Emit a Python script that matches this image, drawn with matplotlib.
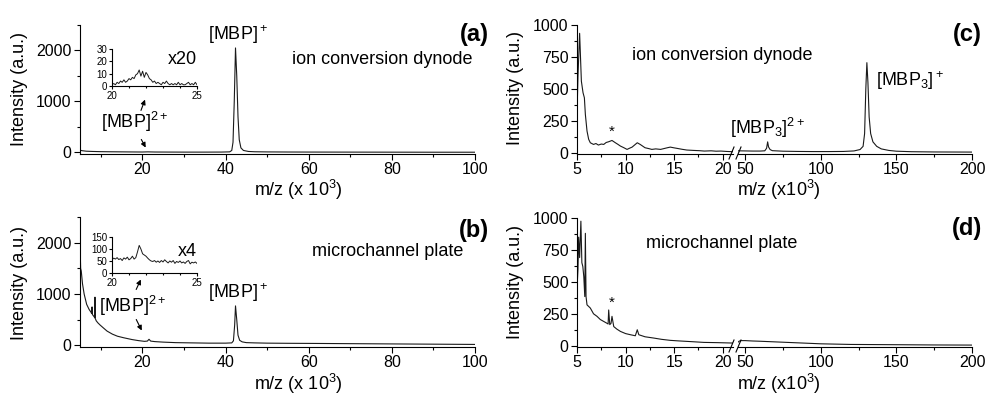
import matplotlib
matplotlib.use("Agg")
import matplotlib.pyplot as plt
from matplotlib.lines import Line2D
from matplotlib.patches import FancyArrowPatch
from matplotlib.ticker import MultipleLocator

plt.rcParams['font.family'] = ['Liberation Sans', 'DejaVu Sans']

# ---------------------------------------------------------------------------
# Spectra (m/z in kDa, intensity in a.u.)
# ---------------------------------------------------------------------------

# (a) ion conversion dynode, MBP monomer
a_mz = [5.0, 5.5, 6.5, 8.0, 10.0, 12.0, 15.0, 18.0, 20.0, 21.3, 23.0, 26.0, 30.0,
        35.0, 39.0, 41.0, 41.5, 41.8, 42.1, 42.4, 42.7, 43.0, 43.3, 43.7, 44.3,
        45.5, 47.0, 50.0, 55.0, 60.0, 70.0, 80.0, 90.0, 100.0]
a_int = [45, 35, 25, 20, 16, 14, 12, 10, 9, 12, 9, 8, 7,
         7, 8, 12, 40, 200, 1000, 2050, 1500, 700, 250, 90, 40,
         20, 14, 11, 9, 8, 7, 6, 5, 5]

# (a) inset, x20 zoom on the doubly charged ion
a_ins_mz = [20.0, 20.1, 20.2, 20.3, 20.4, 20.5, 20.6, 20.7, 20.8, 20.9,
            21.0, 21.1, 21.2, 21.3, 21.4, 21.5, 21.6, 21.7, 21.8, 21.9,
            22.0, 22.1, 22.2, 22.3, 22.4, 22.5, 22.6, 22.7, 22.8, 22.9,
            23.0, 23.1, 23.2, 23.3, 23.4, 23.5, 23.6, 23.7, 23.8, 23.9,
            24.0, 24.1, 24.2, 24.3, 24.4, 24.5, 24.6, 24.7, 24.8, 24.9, 25.0]
a_ins_int = [1, 2, 1, 3, 2, 4, 3, 5, 3, 4,
             6, 5, 7, 6, 9, 10, 13, 8, 12, 7,
             11, 9, 6, 5, 3, 4, 2, 3, 2, 1,
             3, 2, 4, 2, 1, 2, 1, 2, 1, 3,
             1, 2, 1, 1, 2, 3, 1, 2, 1, 3, 1]

# (b) microchannel plate, MBP monomer
b_mz = [5.0, 5.05, 5.15, 5.3, 5.6, 6.0, 6.6, 7.2, 7.7, 7.8, 7.9, 8.0, 8.3, 8.55,
        8.6, 8.65, 8.9, 9.3, 9.8, 10.5, 11.5, 12.8, 14.0, 15.5, 17.5, 19.0, 20.5,
        21.2, 21.6, 22.0, 23.0, 25.0, 28.0, 32.0, 36.0, 40.0, 41.5, 41.9, 42.2,
        42.4, 42.7, 43.0, 43.4, 44.0, 45.0, 47.0, 50.0, 55.0, 60.0, 70.0, 80.0,
        90.0, 100.0]
b_int = [1500, 1850, 1500, 1450, 1200, 1000, 800, 700, 640, 620, 750, 600, 570, 540,
         940, 530, 480, 440, 400, 350, 280, 220, 180, 150, 115, 95, 80,
         85, 120, 85, 75, 65, 55, 50, 45, 45, 50, 90, 400,
         770, 500, 200, 100, 70, 55, 50, 45, 42, 40, 35, 30,
         25, 20]

# (b) inset, x4 zoom on the doubly charged ion
b_ins_mz = [20.0, 20.1, 20.2, 20.3, 20.4, 20.5, 20.6, 20.7, 20.8, 20.9,
            21.0, 21.1, 21.2, 21.3, 21.4, 21.5, 21.6, 21.7, 21.8, 21.9,
            22.0, 22.1, 22.2, 22.3, 22.4, 22.5, 22.6, 22.7, 22.8, 22.9,
            23.0, 23.1, 23.2, 23.3, 23.4, 23.5, 23.6, 23.7, 23.8, 23.9,
            24.0, 24.1, 24.2, 24.3, 24.4, 24.5, 24.6, 24.7, 24.8, 24.9, 25.0]
b_ins_int = [55, 62, 58, 64, 56, 60, 52, 63, 58, 66,
             55, 60, 70, 58, 64, 88, 115, 100, 80, 75,
             70, 62, 55, 50, 48, 52, 45, 50, 44, 52,
             46, 55, 48, 42, 50, 45, 52, 40, 48, 44,
             50, 42, 46, 40, 48, 52, 38, 45, 42, 46, 40]

# (c) ion conversion dynode, MBP trimer (broken axis: 5-21 | 45-200)
c_lo_mz = [5.0, 5.1, 5.27, 5.45, 5.62, 5.76, 5.86, 6.03, 6.2, 6.37, 6.7, 6.95,
           7.2, 7.5, 7.75, 8.0, 8.26, 8.6, 8.95, 9.2, 9.47, 9.8, 10.15, 10.4,
           10.67, 11.2, 11.5, 12.0, 12.4, 12.7, 13.1, 13.6, 14.3, 14.6, 15.0,
           15.3, 15.8, 16.3, 17.0, 17.6, 18.1, 18.8, 19.3, 19.8, 20.4, 21.0]
c_lo_int = [300, 600, 935, 560, 470, 430, 300, 170, 105, 78, 65, 72,
            60, 68, 65, 80, 86, 96, 78, 66, 52, 40, 26, 35,
            44, 78, 65, 39, 32, 26, 30, 26, 39, 44, 38,
            34, 27, 21, 18, 16, 13, 15, 12, 13, 10, 8]
c_hi_mz = [45, 50, 55, 60, 63, 64.2, 64.9, 65.5, 66.5, 68, 75, 85, 95, 105,
           115, 122, 126, 128, 129, 129.8, 130.5, 131.2, 132, 133, 134.5,
           137, 140, 145, 150, 160, 175, 200]
c_hi_int = [15, 14, 13, 13, 15, 35, 85, 45, 25, 16, 12, 10, 9, 9,
            10, 14, 25, 50, 150, 500, 705, 550, 280, 150, 85,
            50, 30, 18, 12, 8, 6, 5]

# (d) microchannel plate, MBP trimer
d_lo_mz = [5.0, 5.1, 5.17, 5.27, 5.4, 5.5, 5.6, 5.7, 5.8, 5.86, 5.93, 6.03,
           6.37, 6.7, 7.06, 7.4, 7.75, 8.1, 8.2, 8.26, 8.37, 8.5, 8.6, 8.78,
           9.1, 9.47, 10.0, 10.5, 11.0, 11.2, 11.36, 12.0, 12.9, 13.7, 14.6,
           15.4, 16.3, 17.2, 18.06, 19.5, 21.0]
d_lo_int = [450, 600, 850, 690, 975, 650, 620, 540, 385, 880, 385, 320,
            295, 250, 230, 205, 190, 175, 170, 280, 165, 175, 230, 150,
            130, 112, 95, 86, 78, 125, 86, 70, 60, 50, 42,
            38, 34, 30, 26, 24, 21]
d_hi_mz = [45, 46, 47, 50, 55, 60, 70, 80, 90, 100, 120, 150, 175, 200]
d_hi_int = [25, 35, 40, 40, 37, 35, 30, 25, 20, 15, 10, 8, 6, 5]

# ---------------------------------------------------------------------------
# Layout helpers (reference is 989 x 395 px)
# ---------------------------------------------------------------------------
W, H = 989, 395
LINE = dict(color="#1a1a1a", lw=0.8)
TICK_FS = 11.5
TEXT_FS = 13

fig = plt.figure(figsize=(W / 100, H / 100), dpi=100)


def fx(px):
    return px / W


def fy(py):
    return 1 - py / H


def add_axes(left, top, right, bottom):
    return fig.add_axes([fx(left), fy(bottom), (right - left) / W, (bottom - top) / H])


def style(ax, fs=TICK_FS, major=4, minor=2.5):
    ax.spines["top"].set_visible(False)
    ax.spines["right"].set_visible(False)
    for s in ("left", "bottom"):
        ax.spines[s].set_linewidth(0.8)
    ax.tick_params(which="both", direction="out", width=0.8, labelsize=fs, pad=2)
    ax.tick_params(which="major", length=major)
    ax.tick_params(which="minor", length=minor)


def label(x, y, s, **kw):
    kw.setdefault("fontsize", TEXT_FS)
    fig.text(fx(x), fy(y), s, ha=kw.pop("ha", "center"), va=kw.pop("va", "center"), **kw)


def arrow(x0, y0, x1, y1):
    fig.add_artist(FancyArrowPatch(
        (fx(x0), fy(y0)), (fx(x1), fy(y1)), transform=fig.transFigure,
        arrowstyle="-|>", mutation_scale=7, lw=0.8, color="k"))


# ---------------------------------------------------------------------------
# (a) and (b): single linear axis 5-100
# ---------------------------------------------------------------------------
for (top, bot, mz, inten, ins_mz, ins_int, ins_top, ins_bot, ins_max, ins_step) in [
        (25, 154, a_mz, a_int, a_ins_mz, a_ins_int, 49, 86, 30, 10),
        (217, 347, b_mz, b_int, b_ins_mz, b_ins_int, 237, 273, 150, 50)]:
    ax = add_axes(80, top, 475, bot)
    ax.plot(mz, inten, **LINE)
    ax.set_xlim(5, 100)
    ax.set_ylim(-30, 2500)
    ax.xaxis.set_major_locator(MultipleLocator(20))
    ax.xaxis.set_minor_locator(MultipleLocator(10))
    ax.yaxis.set_minor_locator(MultipleLocator(500))
    ax.set_yticks([0, 1000, 2000])
    style(ax)

    ins = add_axes(112, ins_top, 197, ins_bot)
    ins.plot(ins_mz, ins_int, color="#1a1a1a", lw=0.7)
    ins.set_xlim(20, 25)
    ins.set_ylim(0, ins_max)
    ins.set_xticks([20, 25])
    ins.xaxis.set_minor_locator(MultipleLocator(1))
    ins.yaxis.set_major_locator(MultipleLocator(ins_step))
    ins.patch.set_alpha(0)
    style(ins, fs=7, major=2.5, minor=1.5)
    ins.tick_params(pad=1)

# ---------------------------------------------------------------------------
# (c) and (d): broken axis 5-21 | 45-200
# ---------------------------------------------------------------------------
for (top, bot, lo_mz, lo_int, hi_mz, hi_int) in [
        (25, 154, c_lo_mz, c_lo_int, c_hi_mz, c_hi_int),
        (218, 347, d_lo_mz, d_lo_int, d_hi_mz, d_hi_int)]:
    axl = add_axes(577, top, 733, bot)
    axl.plot(lo_mz, lo_int, **LINE)
    axl.set_xlim(5, 21.05)
    axl.set_ylim(-10, 1000)
    axl.xaxis.set_major_locator(MultipleLocator(5))
    axl.xaxis.set_minor_locator(MultipleLocator(2.5))
    axl.yaxis.set_major_locator(MultipleLocator(250))
    axl.yaxis.set_minor_locator(MultipleLocator(125))
    style(axl)

    axr = add_axes(738, top, 972, bot)
    axr.plot(hi_mz, hi_int, **LINE)
    axr.set_xlim(45.3, 200)
    axr.set_ylim(-10, 1000)
    axr.xaxis.set_major_locator(MultipleLocator(50))
    axr.xaxis.set_minor_locator(MultipleLocator(25))
    style(axr)
    axr.spines["left"].set_visible(False)
    axr.tick_params(axis="y", which="both", left=False, labelleft=False)
    axr.patch.set_alpha(0)

    # break marks on the x axis
    for x0 in (729, 736):
        fig.add_artist(Line2D([fx(x0), fx(x0 + 5)], [fy(bot + 5), fy(bot - 7)],
                              color="k", lw=0.8))

# ---------------------------------------------------------------------------
# Labels and annotations
# ---------------------------------------------------------------------------
xlab_a = r"m/z (x 10$\mathregular{^3}$)"
xlab_c = r"m/z (x10$\mathregular{^3}$)"
for y in (190, 384):
    label(298, y, xlab_a)
    label(779, y, xlab_c)
for x, y in ((20, 89), (20, 283), (516, 88), (516, 282)):
    label(x, y, "Intensity (a.u.)", rotation=90)

panel = dict(fontsize=17, fontweight="bold", ha="right")
label(489, 35, "(a)", **panel)
label(489, 231, "(b)", **panel)
label(982, 34, "(c)", **panel)
label(982, 229, "(d)", **panel)

# (a)
label(382, 60, "ion conversion dynode")
label(182, 60, "x20")
label(238, 35, r"[MBP]$\mathregular{^+}$")
label(135, 122, r"[MBP]$\mathregular{^{2+}}$")
arrow(140, 113, 146, 97)
arrow(140, 137, 147, 150)

# (b)
label(388, 252, "microchannel plate")
label(187, 252, "x4")
label(238, 293, r"[MBP]$\mathregular{^+}$")
label(133, 306, r"[MBP]$\mathregular{^{2+}}$")
arrow(135, 292, 142, 277)
arrow(135, 317, 143, 333)

# (c)
label(722, 56, "ion conversion dynode")
label(612, 132, "*", fontsize=11)
label(768, 128, r"[MBP$\mathregular{_3}$]$\mathregular{^{2+}}$")
label(910, 81, r"[MBP$\mathregular{_3}$]$\mathregular{^+}$")

# (d)
label(722, 244, "microchannel plate")
label(612, 303, "*", fontsize=11)

fig.savefig("out.png", dpi=100)
